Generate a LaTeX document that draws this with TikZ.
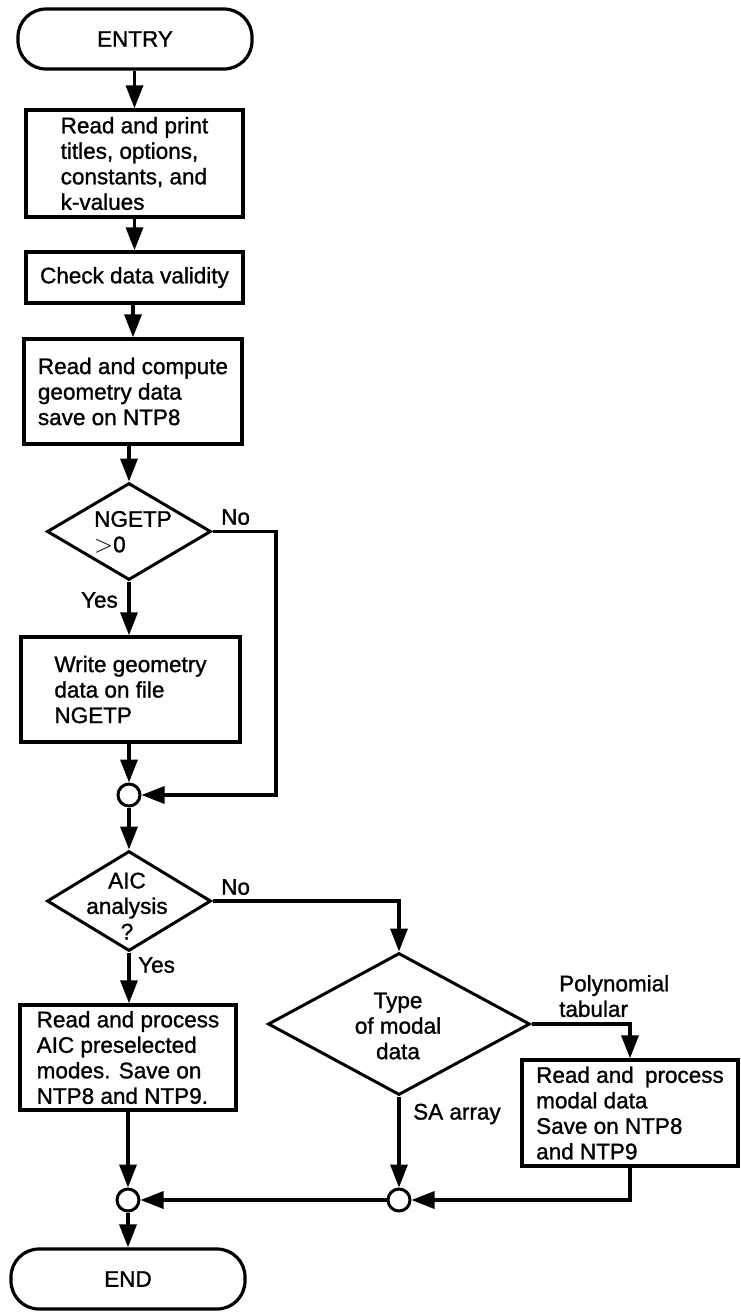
\documentclass[tikz,border=0pt]{standalone}
\usepackage{fontspec}
\setmainfont{Liberation Sans}[FakeBold=1.2]
\usetikzlibrary{shapes.geometric,arrows.meta}
\begin{document}
\begin{tikzpicture}[x=1pt,y=-1pt,
  every node/.style={font=\fontsize{22.5}{25.5}\selectfont},
  flowline/.style={line width=3.4pt},
  arr/.style={flowline,-{Triangle[length=23pt,width=17pt]}},
  term/.style={draw,line width=3.2pt,rounded corners=28pt,minimum width=234pt,minimum height=60pt,inner sep=0pt},
  proc/.style={draw,line width=3.4pt,align=left,inner sep=0pt},
  decision/.style={draw,diamond,line width=3pt,inner sep=0pt},
  joint/.style={draw,circle,line width=3pt,fill=white,minimum size=22pt,inner sep=0pt},
  caption/.style={align=left,inner sep=0pt}
]
\useasboundingbox (0,0) rectangle (740,1312);

% main column
\node[term] (entry) at (135,39) {ENTRY};
\node[proc,minimum width=217pt,minimum height=107pt] (b1) at (134.5,163.5)
  {Read and print\\titles, options,\\constants, and\\k-values};
\node[proc,minimum width=217pt,minimum height=51pt] (b2) at (134.5,277.5)
  {Check data validity};
\node[proc,minimum width=218pt,minimum height=105pt] (b3) at (133,391.5)
  {Read and compute\\geometry data\\save on NTP8};
\node[decision,minimum width=164pt,minimum height=97pt] (d1) at (129,531.5) {};
\node[caption] (d1t) at (133,532) {NGETP\\{\fontsize{28}{25.5}\selectfont$>$}0};
\node[proc,minimum width=219pt,minimum height=105pt] (b4) at (130.5,689.5)
  {Write geometry\\data on file\\NGETP};
\node[joint] (c1) at (129,795) {};
\coordinate (j1) at (276,795);
\node[decision,minimum width=164pt,minimum height=100pt] (d2) at (129,901) {};
\node[align=center,inner sep=0pt] (d2t) at (127,906) {AIC\\analysis\\?};
\node[proc,minimum width=216pt,minimum height=105pt] (b5) at (128,1057.5)
  {Read and process\\AIC preselected\\modes. Save on\\NTP8 and NTP9.};
\node[joint] (c3) at (128,1200) {};
\node[term] (exit) at (128,1279) {END};

% modal data branch
\node[decision,minimum width=262pt,minimum height=142pt] (d3) at (399,1024) {};
\node[align=center,inner sep=0pt] (d3t) at (398,1026) {Type\\of modal\\data};
\node[proc,minimum width=216pt,minimum height=106pt] (b6) at (630,1113)
  {Read and\enspace process\\modal data\\Save on NTP8\\and NTP9};
\node[joint] (c2) at (399,1200) {};

% branch labels
\node[caption,anchor=west] (no1) at (221,517) {No};
\node[caption,anchor=east] (yes1) at (118,600) {Yes};
\node[caption,anchor=west] (no2) at (221,887) {No};
\node[caption,anchor=west] (yes2) at (138,965) {Yes};
\node[caption,anchor=west] (poly) at (559,996) {Polynomial\\tabular};
\node[caption,anchor=west] (sa) at (413,1114) {SA array};

% connectors
\draw[arr] (entry.south -| b1.north) -- (b1.north);
\draw[arr] (b1.south -| b2.north) -- (b2.north);
\draw[arr] (b2.south -| b3.north) -- (b3.north);
\draw[arr] (b3.south -| d1.north) -- (d1.north);
\draw[arr] (d1.south) -- (d1.south |- b4.north);
\draw[arr] (b4.south -| c1.north) -- (c1.north);
\draw[arr] (d1.east) -| (j1) -- (c1.east);
\draw[arr] (c1.south) -- (d2.north);
\draw[arr] (d2.south) -- (d2.south |- b5.north);
\draw[arr] (d2.east) -| (d3.north);
\draw[arr] (d3.east) -| (b6.north);
\draw[arr] (d3.south) -- (c2.north);
\draw[arr] (b6.south) |- (c2.east);
\draw[arr] (c2.west) -- (c3.east);
\draw[arr] (b5.south -| c3.north) -- (c3.north);
\draw[arr] (c3.south) -- (c3.south |- exit.north);
\end{tikzpicture}
\end{document}
